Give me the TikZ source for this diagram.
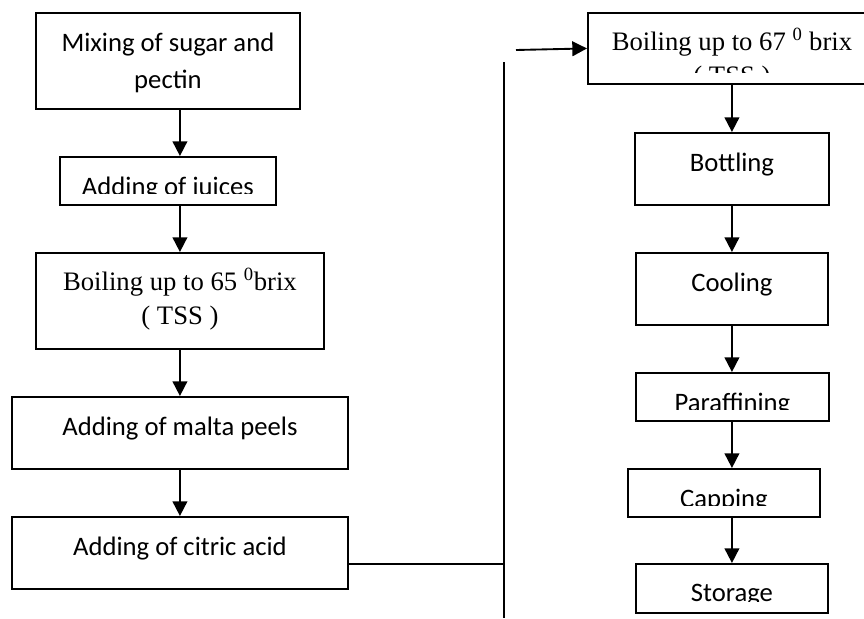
\documentclass[tikz,border=0pt]{standalone}
\usepackage{fontspec}
\usepackage{tikz}
\usetikzlibrary{arrows.meta}
\newfontfamily\calibrifont{Carlito}
\newfontfamily\timesfont{Liberation Serif}

\tikzset{
  box/.style={draw, line width=1.4pt, anchor=north west, inner sep=0pt},
  stage/.style={box, path picture={
      \clip ([yshift=8.25pt]path picture bounding box.south west) rectangle (path picture bounding box.north east);
      \node[anchor=north, align=center, inner sep=0pt, minimum size=0pt, font=\calibrifont\fontsize{20}{27.75}\selectfont]
        at ([yshift=-14.6pt]path picture bounding box.north) {#1};}},
  tstage/.style={box, path picture={
      \clip ([yshift=8.25pt]path picture bounding box.south west) rectangle (path picture bounding box.north east);
      \node[anchor=north, align=center, inner sep=0pt, minimum size=0pt, font=\timesfont\fontsize{20}{26}\selectfont]
        at ([yshift=-10.5pt]path picture bounding box.north) {#1};}},
  flow/.style={line width=1.4pt, -{Triangle[width=11pt,length=11pt]}},
  link/.style={line width=1.2pt},
}

\begin{document}
\begin{tikzpicture}[x=0.75pt, y=-0.75pt]
  \useasboundingbox (0,0) rectangle (864,618);

  \node[stage={Mixing of sugar and\\pectin}, minimum width=198pt, minimum height=72pt] (mix) at (35,12) {};
  \node[stage={Adding of juices}, minimum width=162pt, minimum height=36pt] (juice) at (59,156) {};
  \node[tstage={Boiling up to 65 \textsuperscript{0}brix\\( TSS )}, minimum width=216pt, minimum height=72pt] (boil65) at (35,252) {};
  \node[stage={Adding of malta peels}, minimum width=252pt, minimum height=54pt] (peel) at (11,396) {};
  \node[stage={Adding of citric acid}, minimum width=252pt, minimum height=54pt] (citric) at (11,516) {};

  \node[tstage={Boiling up to 67 \textsuperscript{0} brix\\( TSS )}, minimum width=216pt, minimum height=53.25pt] (boil67) at (587,12) {};
  \node[stage={Bottling}, minimum width=145.5pt, minimum height=54pt] (bottle) at (634,132) {};
  \node[stage={Cooling}, minimum width=144pt, minimum height=54pt] (cool) at (635,252) {};
  \node[stage={Paraffining}, minimum width=144.75pt, minimum height=36pt] (paraffin) at (635,372) {};
  \node[stage={Capping}, minimum width=144pt, minimum height=36pt] (cap) at (627,468) {};
  \node[stage={Storage}, minimum width=144pt, minimum height=36.75pt] (store) at (635,563) {};

  \draw[flow] (mix.south -| boil65) -- (juice.north -| boil65);
  \draw[flow] (juice.south -| boil65) -- (boil65.north);
  \draw[flow] (boil65.south) -- (peel.north -| boil65);
  \draw[flow] (peel.south -| boil65) -- (citric.north -| boil65);

  \coordinate (turn) at (504,564);
  \coordinate (railtop) at (504,62);
  \coordinate (railend) at (504,618);
  \coordinate (feed) at (516,50);
  \draw[link] (citric.east |- turn) -- (turn);
  \draw[line width=1.4pt] (railtop) -- (railend);
  \draw[flow] (feed) -- (boil67.west);

  \draw[flow] (boil67.south) -- (bottle.north -| boil67);
  \draw[flow] (bottle.south -| boil67) -- (cool.north -| boil67);
  \draw[flow] (cool.south -| boil67) -- (paraffin.north -| boil67);
  \draw[flow] (paraffin.south -| boil67) -- (cap.north -| boil67);
  \draw[flow] (cap.south -| boil67) -- (store.north -| boil67);
\end{tikzpicture}
\end{document}
